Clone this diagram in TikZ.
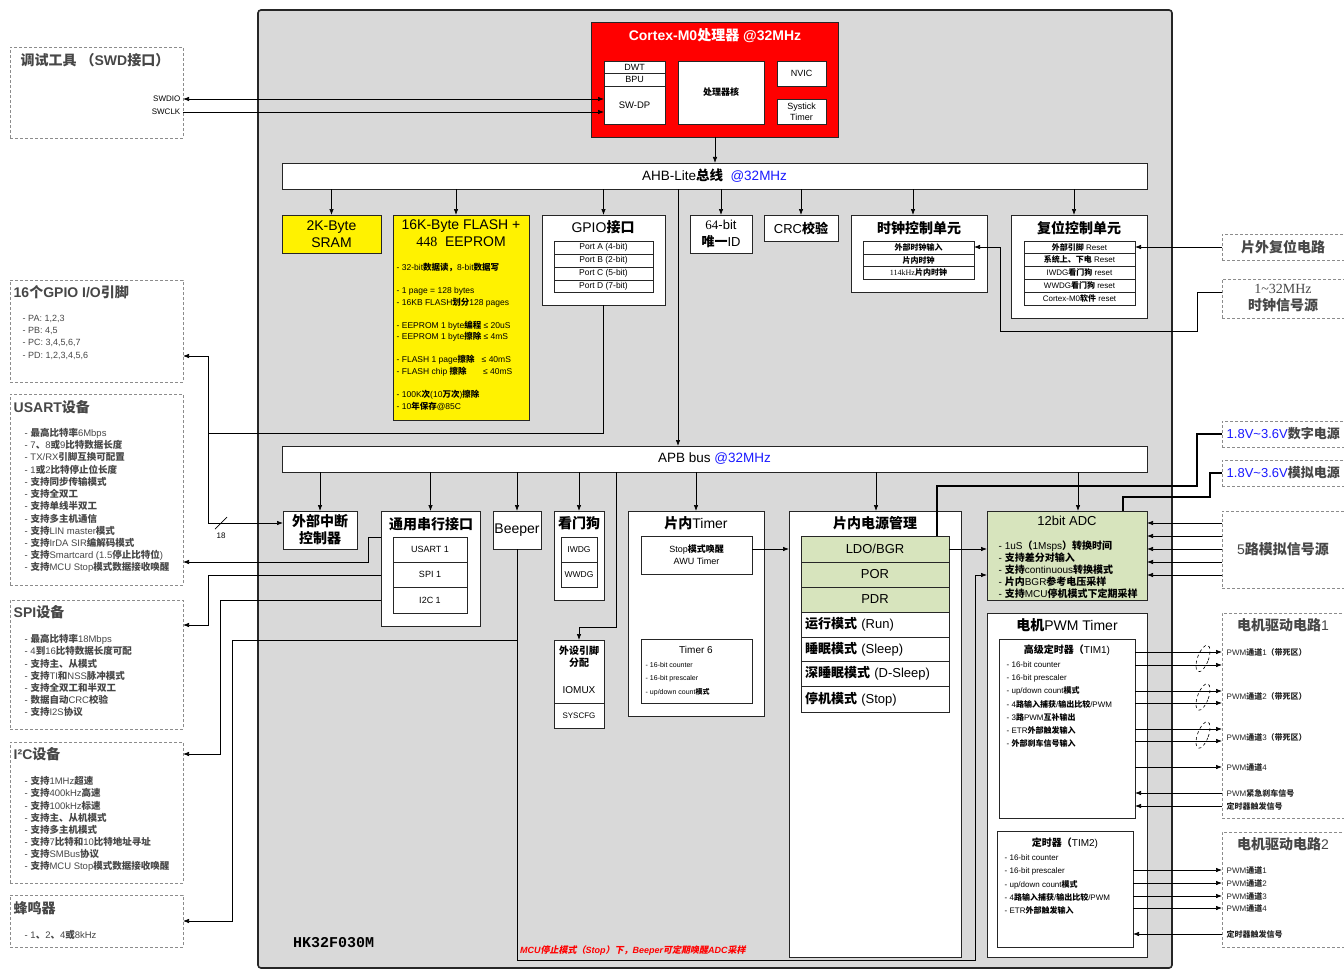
\documentclass[tikz,border=0pt]{standalone}
\usepackage{fontspec}
\setmainfont{Liberation Sans}
\newfontfamily\cjkf{Noto Sans CJK SC}
\newfontfamily\cjkfi{Noto Sans CJK SC}[FakeSlant=0.2]
\newfontfamily\serf{Liberation Serif}
\newfontfamily\monof{Liberation Mono}
\usetikzlibrary{arrows.meta,shapes.geometric}
\XeTeXinterchartokenstate=1
\newcount\cjkcnt
\def\setclassrange#1#2#3{\cjkcnt=#1\relax\loop\XeTeXcharclass\cjkcnt=#3\relax\advance\cjkcnt by 1\relax\ifnum\cjkcnt<#2\relax\repeat}
\setclassrange{"0020}{"3000}{0}
\setclassrange{"3000}{"3040}{7}
\setclassrange{"4E00}{"A000}{7}
\setclassrange{"FF00}{"FFF0}{7}
\def\cjkswitch{\cjkf\bfseries}
\XeTeXinterchartoks 0 7 = {\begingroup\cjkswitch}
\XeTeXinterchartoks 1 7 = {\begingroup\cjkswitch}
\XeTeXinterchartoks 2 7 = {\begingroup\cjkswitch}
\XeTeXinterchartoks 3 7 = {\begingroup\cjkswitch}
\XeTeXinterchartoks 4095 7 = {\begingroup\cjkswitch}
\XeTeXinterchartoks 7 0 = {\endgroup}
\XeTeXinterchartoks 7 1 = {\endgroup}
\XeTeXinterchartoks 7 2 = {\endgroup}
\XeTeXinterchartoks 7 3 = {\endgroup}
\XeTeXinterchartoks 7 4095 = {\endgroup}
\definecolor{chipgray}{HTML}{D9D9D9}
\definecolor{tgray}{HTML}{474747}
\definecolor{dgray}{HTML}{8C8C8C}
\definecolor{adcgreen}{HTML}{D7E4BD}
\definecolor{myblue}{HTML}{1A1AFF}
\newcommand\fsz[2]{\fontsize{#1}{#2}\selectfont}
\newcommand\boxat[7][]{\node[bx,anchor=north west,minimum width={(#5)-(#3)},minimum height={(#6)-(#4)},align=center,#1] (#2) at (#3,#4) {#7};}
\newcommand\listat[6][]{\foreach \t [count=\i] in {#6} {\node[lst,#1] (#2\i) at (#3,{#4+(\i-1)*(#5)}) {\t};}}
\begin{document}
\begin{tikzpicture}[x=1pt,y=-1pt,
 bx/.style={draw=black!85,fill=white,line width=0.8pt,inner sep=0pt,outer sep=0pt},
 dbx/.style={draw=dgray,fill=white,line width=0.8pt,dash pattern=on 3pt off 2pt,inner sep=0pt,outer sep=0pt},
 arr/.style={line width=0.7pt,-{Latex[length=6pt,width=4.5pt]}},
 arr2/.style={line width=0.7pt,{Latex[length=6pt,width=4.5pt]}-{Latex[length=6pt,width=4.5pt]}},
 ln/.style={line width=0.7pt},
 pw/.style={line width=2.2pt},
 t/.style={inner sep=0.5pt,align=center},
 ttl/.style={anchor=west,inner sep=0.5pt,font=\fsz{14}{16}\bfseries,text=tgray},
 rttl/.style={inner sep=0.5pt,align=center,font=\fsz{14}{17}\bfseries,text=tgray},
 lst/.style={anchor=west,inner sep=0.5pt,text=tgray,font=\fsz{9.5}{11}},
 btl/.style={inner sep=0.5pt,align=center,font=\fsz{14}{16}},
 lbl/.style={anchor=west,inner sep=0.5pt,font=\fsz{8}{9},text=black!85}]
\fill[white] (0,0) rectangle (1344,971);
\useasboundingbox (0,0) rectangle (1344,971);
% chip
\boxat[fill=chipgray,line width=1.6pt,rounded corners=3pt]{chip}{258}{10}{1172}{968}{}
% ---------- left dashed boxes
\boxat[dbx]{dbg}{10}{47}{183}{138}{}
\node[ttl] (dbgT) at (20,60) {调试工具 （SWD接口）};
\node[t,anchor=east,font=\fsz{8}{9}] (swdioT) at (181,99) {SWDIO};
\node[t,anchor=east,font=\fsz{8}{9}] (swclkT) at (181,112) {SWCLK};
\boxat[dbx]{gpiopin}{10}{280}{183}{382}{}
\node[ttl] (gpiopinT) at (13,292) {16个GPIO I/O引脚};
\listat[font=\fsz{9}{10}]{gp}{22}{319}{12.2}{{- PA: 1,2,3},{- PB: 4,5},{- PC: 3,4,5,6,7},{- PD: 1,2,3,4,5,6}}
\boxat[dbx]{usartdev}{10}{394}{183}{585}{}
\node[ttl] (usartT) at (13,407) {USART设备};
\listat{us}{24}{433}{12.2}{{- 最高比特率6Mbps},{- 7、8或9比特数据长度},{- TX/RX引脚互换可配置},{- 1或2比特停止位长度},{- 支持同步传输模式},{- 支持全双工},{- 支持单线半双工},{- 支持多主机通信},{- 支持LIN master模式},{- 支持IrDA SIR编解码模式},{- 支持Smartcard (1.5停止比特位)},{- 支持MCU Stop模式数据接收唤醒}}
\boxat[dbx]{spidev}{10}{600}{183}{729}{}
\node[ttl] (spiT) at (13,612) {SPI设备};
\listat{sp}{24}{639}{12.2}{{- 最高比特率18Mbps},{- 4到16比特数据长度可配},{- 支持主、从模式},{- 支持TI和NSS脉冲模式},{- 支持全双工和半双工},{- 数据自动CRC校验},{- 支持I2S协议}}
\boxat[dbx]{i2cdev}{10}{742}{183}{883}{}
\node[ttl] (i2cT) at (13,754) {I²C设备};
\listat{ic}{24}{781}{12.2}{{- 支持1MHz超速},{- 支持400kHz高速},{- 支持100kHz标速},{- 支持主、从机模式},{- 支持多主机模式},{- 支持7比特和10比特地址寻址},{- 支持SMBus协议},{- 支持MCU Stop模式数据接收唤醒}}
\boxat[dbx]{buzzer}{10}{895}{183}{947}{}
\node[ttl] (buzT) at (13,908) {蜂鸣器};
\listat{bz}{24}{935}{12}{{- 1、2、4或8kHz}}
% ---------- right dashed boxes
\boxat[dbx]{rstsrc}{1222}{234}{1352}{260}{}
\node[rttl] (rstsrcT) at (1283,247) {片外复位电路};
\boxat[dbx]{clksrc}{1222}{279}{1352}{318}{}
\node[rttl] (clksrcT) at (1283,298) {{\serf\fontseries{m}\selectfont 1\textasciitilde 32MHz}\\时钟信号源};
\boxat[dbx]{vdd}{1222}{421}{1352}{447}{}
\node[anchor=west,inner sep=0.5pt,font=\fsz{13}{15},text=tgray] (vddT) at (1226,434) {\textcolor{myblue}{1.8V\textasciitilde 3.6V}数字电源};
\boxat[dbx]{vdda}{1222}{460}{1352}{486}{}
\node[anchor=west,inner sep=0.5pt,font=\fsz{13}{15},text=tgray] (vddaT) at (1226,473) {\textcolor{myblue}{1.8V\textasciitilde 3.6V}模拟电源};
\boxat[dbx]{ana}{1222}{511}{1352}{588}{}
\node[rttl,font=\fsz{14}{16}] (anaT) at (1283,549) {5路模拟信号源};
\boxat[dbx]{mot1}{1222}{613}{1352}{818}{}
\node[rttl,font=\fsz{14}{16}] (mot1T) at (1283,625) {电机驱动电路1};
\boxat[dbx]{mot2}{1222}{832}{1352}{947}{}
\node[rttl,font=\fsz{14}{16}] (mot2T) at (1283,844) {电机驱动电路2};
% ---------- Cortex
\boxat[fill=red]{cortex}{591}{22}{838}{137}{}
\node[t,text=white,font=\fsz{14}{16}\bfseries] (cortexT) at (715,36) {Cortex-M0处理器 @32MHz};
\boxat[font=\fsz{9}{10}]{dwt}{604}{61}{665}{73}{DWT}
\boxat[font=\fsz{9}{10}]{bpu}{604}{73}{665}{86}{BPU}
\boxat[font=\fsz{9.5}{10}]{swdp}{604}{86}{665}{124}{SW-DP}
\boxat[font=\fsz{9}{10}]{core}{678}{61}{764}{124}{处理器核}
\boxat[font=\fsz{9}{10}]{nvic}{777}{61}{826}{86}{NVIC}
\boxat[font=\fsz{9}{11}]{systick}{777}{99}{826}{124}{Systick\\Timer}
% ---------- AHB
\boxat[font=\fsz{13.5}{15}]{ahb}{282}{163}{1147}{189}{AHB-Lite总线\ \ \textcolor{myblue}{@32MHz}}
\boxat[fill=yellow,font=\fsz{14}{17}]{sram}{282}{215}{381}{253}{2K-Byte\\SRAM}
\boxat[fill=yellow]{flash}{393}{215}{529}{420}{}
\node[t,font=\fsz{14}{17.5}] (flashT) at (461,233) {16K-Byte FLASH +\\{\serf 448}\ \ EEPROM};
\listat[font=\fsz{8.5}{9},text=black]{fl}{396}{268}{11.5}{{- 32-bit数据读，8-bit数据写},{},{- 1 page = 128 bytes},{- 16KB FLASH划分128 pages},{},{- EEPROM 1 byte编程 ≤ 20uS},{- EEPROM 1 byte擦除 ≤ 4mS},{},{- FLASH 1 page擦除\ \ \ ≤ 40mS},{- FLASH chip 擦除\ \ \ \ \ \ \ ≤ 40mS},{},{- 100K次(10万次)擦除},{- 10年保存@85C}}
\boxat{gpio}{542}{215}{665}{305}{}
\node[btl] (gpioT) at (603,227) {GPIO接口};
\boxat[font=\fsz{8.5}{10}]{pa}{554}{241}{653}{254}{Port A (4-bit)}
\boxat[font=\fsz{8.5}{10}]{pb}{554}{254}{653}{267}{Port B (2-bit)}
\boxat[font=\fsz{8.5}{10}]{pc}{554}{267}{653}{280}{Port C (5-bit)}
\boxat[font=\fsz{8.5}{10}]{pd}{554}{280}{653}{292}{Port D (7-bit)}
\boxat[font=\fsz{13}{16.5}]{uid}{690}{215}{752}{253}{{\serf 64}-bit\\唯一ID}
\boxat[font=\fsz{13}{15}]{crc}{764}{215}{838}{241}{CRC校验}
\boxat{clk}{851}{215}{987}{292}{}
\node[btl] (clkT) at (919,228) {时钟控制单元};
\boxat[font=\fsz{8}{9}]{cr1}{863}{241}{974}{254}{外部时钟输入}
\boxat[font=\fsz{8}{9}]{cr2}{863}{254}{974}{266}{片内时钟}
\boxat[font=\fsz{8}{9}]{cr3}{863}{266}{974}{279}{{\serf 114kHz}片内时钟}
\boxat{rst}{1011}{215}{1147}{318}{}
\node[btl] (rstT) at (1079,228) {复位控制单元};
\boxat[font=\fsz{8}{9}]{rr1}{1024}{241}{1135}{253}{外部引脚 Reset}
\boxat[font=\fsz{8}{9}]{rr2}{1024}{253}{1135}{266}{系统上、下电 Reset}
\boxat[font=\fsz{8}{9}]{rr3}{1024}{266}{1135}{279}{IWDG看门狗 reset}
\boxat[font=\fsz{8}{9}]{rr4}{1024}{279}{1135}{292}{WWDG看门狗 reset}
\boxat[font=\fsz{8}{9}]{rr5}{1024}{292}{1135}{305}{Cortex-M0软件 reset}
% ---------- APB
\boxat[font=\fsz{13.5}{15}]{apb}{282}{446}{1147}{472}{APB bus \textcolor{myblue}{@32MHz}}
\boxat[font=\fsz{14}{17}\bfseries]{exti}{283}{511}{357}{549}{外部中断\\控制器}
\boxat{uart}{381}{511}{480}{626}{}
\node[btl] (uartT) at (431,524) {通用串行接口};
\boxat[font=\fsz{9}{10}]{u1}{393}{537}{467}{562}{USART 1}
\boxat[font=\fsz{9}{10}]{u2}{393}{562}{467}{587}{SPI 1}
\boxat[font=\fsz{9}{10}]{u3}{393}{587}{467}{613}{I2C 1}
\boxat[font=\fsz{14}{16}]{beeper}{493}{511}{541}{549}{Beeper}
\boxat{wdg}{554}{511}{604}{600}{}
\node[btl] (wdgT) at (579,523) {看门狗};
\boxat[font=\fsz{8.5}{10}]{iwdg}{561}{537}{597}{562}{IWDG}
\boxat[font=\fsz{8.5}{10}]{wwdg}{561}{562}{597}{587}{WWDG}
\boxat{iomux}{554}{640}{604}{703}{}
\node[t,font=\fsz{10}{12}\bfseries] (iomuxT) at (579,657) {外设引脚\\分配};
\node[t,font=\fsz{10}{12}] (iomuxT2) at (579,690) {IOMUX};
\boxat[font=\fsz{8}{9}]{syscfg}{554}{703}{604}{728}{SYSCFG}
\boxat{tmr}{628}{511}{764}{716}{}
\node[btl] (tmrT) at (696,523) {片内Timer};
\boxat[font=\fsz{9}{12}]{awu}{641}{536}{752}{574}{Stop模式唤醒\\AWU Timer}
\boxat{tim6}{641}{639}{752}{703}{}
\node[t,font=\fsz{10}{12}] (tim6T) at (696,650) {Timer 6};
\listat[font=\fsz{7}{8},text=black]{t6}{645}{665}{13.5}{{- 16-bit counter},{- 16-bit prescaler},{- up/down count模式}}
\boxat{power}{789}{511}{961}{957}{}
\node[btl] (powerT) at (875,523) {片内电源管理};
\boxat[fill=adcgreen,font=\fsz{13}{15}]{ldo}{801}{536}{949}{562}{LDO/BGR}
\boxat[fill=adcgreen,font=\fsz{13}{15}]{por}{801}{562}{949}{587}{POR}
\boxat[fill=adcgreen,font=\fsz{13}{15}]{pdr}{801}{587}{949}{612}{PDR}
\boxat[font=\fsz{13}{15},text width=140pt,inner xsep=4pt,align=left]{mrun}{801}{612}{949}{637}{运行模式 (Run)}
\boxat[font=\fsz{13}{15},text width=140pt,inner xsep=4pt,align=left]{msleep}{801}{637}{949}{661}{睡眠模式 (Sleep)}
\boxat[font=\fsz{13}{15},text width=140pt,inner xsep=4pt,align=left]{mdsleep}{801}{661}{949}{686}{深睡眠模式 (D-Sleep)}
\boxat[font=\fsz{13}{15},text width=140pt,inner xsep=4pt,align=left]{mstop}{801}{686}{949}{712}{停机模式 (Stop)}
\boxat[fill=adcgreen]{adc}{987}{511}{1147}{600}{}
\node[t,font=\fsz{13}{15}] (adcT) at (1067,521) {12bit ADC};
\listat[font=\fsz{10}{11},text=black]{ad}{998}{546}{12}{{- 1uS（1Msps）转换时间},{- 支持差分对输入},{- 支持continuous转换模式},{- 片内BGR参考电压采样},{- 支持MCU停机模式下定期采样}}
\boxat{mpwm}{987}{613}{1147}{957}{}
\node[btl] (mpwmT) at (1067,625) {电机PWM Timer};
\boxat{tim1}{999}{639}{1135}{818}{}
\node[t,font=\fsz{10}{12}] (tim1T) at (1067,650) {高级定时器（TIM1)};
\listat[font=\fsz{8}{9},text=black]{ta}{1006}{665}{13}{{- 16-bit counter},{- 16-bit prescaler},{- up/down count模式},{- 4路输入捕获/输出比较/PWM},{- 3路PWM互补输出},{- ETR外部触发输入},{- 外部刹车信号输入}}
\boxat{tim2}{997}{831}{1133}{947}{}
\node[t,font=\fsz{10}{12}] (tim2T) at (1065,843) {定时器（TIM2)};
\listat[font=\fsz{8}{9},text=black]{tb}{1004}{858}{13.2}{{- 16-bit counter},{- 16-bit prescaler},{- up/down count模式},{- 4路输入捕获/输出比较/PWM},{- ETR外部触发输入}}
% ---------- texts
\node[anchor=west,inner sep=0pt,font=\fsz{15}{17}\monof\bfseries] (chipname) at (293,943) {HK32F030M};
\node[anchor=west,inner sep=0pt,text=red,font=\fsz{9}{10}\bfseries\itshape] (note) at (520,951) {\def\cjkswitch{\cjkfi\bfseries}MCU停止模式（Stop）下，Beeper可定期唤醒ADC采样};
% ---------- connectors
\draw[arr2] (dbg.east |- 0,99) -- (swdp.west |- 0,99);
\draw[arr] (dbg.east |- 0,112) -- (swdp.west |- 0,112);
\draw[arr] (cortex.south -| 715,0) -- (ahb.north -| 715,0);
\draw[arr] (ahb.south -| sram.north) -- (sram.north);
\draw[arr] (ahb.south -| 456,0) -- (flash.north -| 456,0);
\draw[arr] (ahb.south -| gpio.north) -- (gpio.north);
\draw[arr] (ahb.south -| uid.north) -- (uid.north);
\draw[arr] (ahb.south -| crc.north) -- (crc.north);
\draw[arr] (ahb.south -| 913,0) -- (clk.north -| 913,0);
\draw[arr] (ahb.south -| 1074,0) -- (rst.north -| 1074,0);
\draw[arr] (ahb.south -| 678,0) -- (apb.north -| 678,0);
\coordinate (jg) at (208,433);
\draw[ln] (gpio.south) |- (jg);
\draw[arr] (jg) -- (jg |- 0,356) -- (gpiopin.east |- 0,356);
\draw[arr] (jg) -- (jg |- 0,523) -- (exti.west |- 0,523);
\draw[ln] (215,529) -- (227,517);
\node[inner sep=0pt,font=\fsz{8}{9}] (n18) at (221,536) {18};
\draw[arr] (clksrc.west |- 0,292) -- (1197,292) -- (1197,331) -- (1000,331) -- (1000,247) -- (cr1.east |- 0,247);
\draw[arr] (rstsrc.west) -- (rr1.east |- rstsrc.west);
\draw[arr] (apb.south -| exti.north) -- (exti.north);
\draw[arr] (apb.south -| uart.north) -- (uart.north);
\draw[arr] (apb.south -| beeper.north) -- (beeper.north);
\draw[arr] (apb.south -| wdg.north) -- (wdg.north);
\draw[arr] (apb.south -| 616,0) -- (616,627) -- (579,627) -- (iomux.north -| 579,0);
\draw[arr] (apb.south -| tmr.north) -- (tmr.north);
\draw[arr] (apb.south -| 876,0) -- (power.north -| 876,0);
\draw[arr] (apb.south -| 1078,0) -- (adc.north -| 1078,0);
\draw[arr] (uart.west |- 0,537) -- (368,537) -- (368,562) -- (usartdev.east |- 0,562);
\draw[arr] (uart.west |- 0,575) -- (208,575) -- (208,625) -- (spidev.east |- 0,625);
\draw[arr] (uart.west |- 0,600) -- (220,600) -- (220,754) -- (i2cdev.east |- 0,754);
\coordinate (jb) at (517,640);
\draw[arr] (jb) -- (232,640) -- (232,921) -- (buzzer.east |- 0,921);
\draw[arr] (beeper.south) -- (beeper.south |- 0,960) -- (975,960) -- (975,575) -- (adc.west |- 0,575);
\draw[arr] (awu.east |- 0,549) -- (power.west |- 0,549);
\draw[arr] (ldo.east) -- (adc.west |- ldo.east);
\draw[pw] (vdd.west |- 0,434) -- (1197,434) -- (1197,486) -- (937,486) -- (ldo.north -| 937,0);
\draw[pw] (vdda.west |- 0,473) -- (1210,473) -- (1210,497) -- (1123,497) -- (adc.north -| 1123,0);
\foreach \yy in {523,536,549,562,575} \draw[arr] (ana.west |- 0,\yy) -- (adc.east |- 0,\yy);
\foreach \yy in {652,665,691,703,729,741,767} \draw[arr] (tim1.east |- 0,\yy) -- (mot1.west |- 0,\yy);
\foreach \yy in {793,806} \draw[arr] (mot1.west |- 0,\yy) -- (tim1.east |- 0,\yy);
\foreach \yy [count=\k] in {658.5,697,735} \node[ellipse,draw,dashed,line width=0.6pt,minimum width=11pt,minimum height=28pt,inner sep=0pt,rotate=-20] (el\k) at (1203,\yy) {};
\foreach \yy in {870,883,896,908} \draw[arr] (tim2.east |- 0,\yy) -- (mot2.west |- 0,\yy);
\draw[arr] (mot2.west |- 0,934) -- (tim2.east |- 0,934);
\node[lbl] (p1) at (1226,652) {PWM通道1（带死区）};
\node[lbl] (p2) at (1226,696) {PWM通道2（带死区）};
\node[lbl] (p3) at (1226,737) {PWM通道3（带死区）};
\node[lbl] (p4) at (1226,767) {PWM通道4};
\node[lbl] (p5) at (1226,793) {PWM紧急刹车信号};
\node[lbl] (p6) at (1226,806) {定时器触发信号};
\node[lbl] (q1) at (1226,870) {PWM通道1};
\node[lbl] (q2) at (1226,883) {PWM通道2};
\node[lbl] (q3) at (1226,896) {PWM通道3};
\node[lbl] (q4) at (1226,908) {PWM通道4};
\node[lbl] (q5) at (1226,934) {定时器触发信号};
\end{tikzpicture}
\end{document}
